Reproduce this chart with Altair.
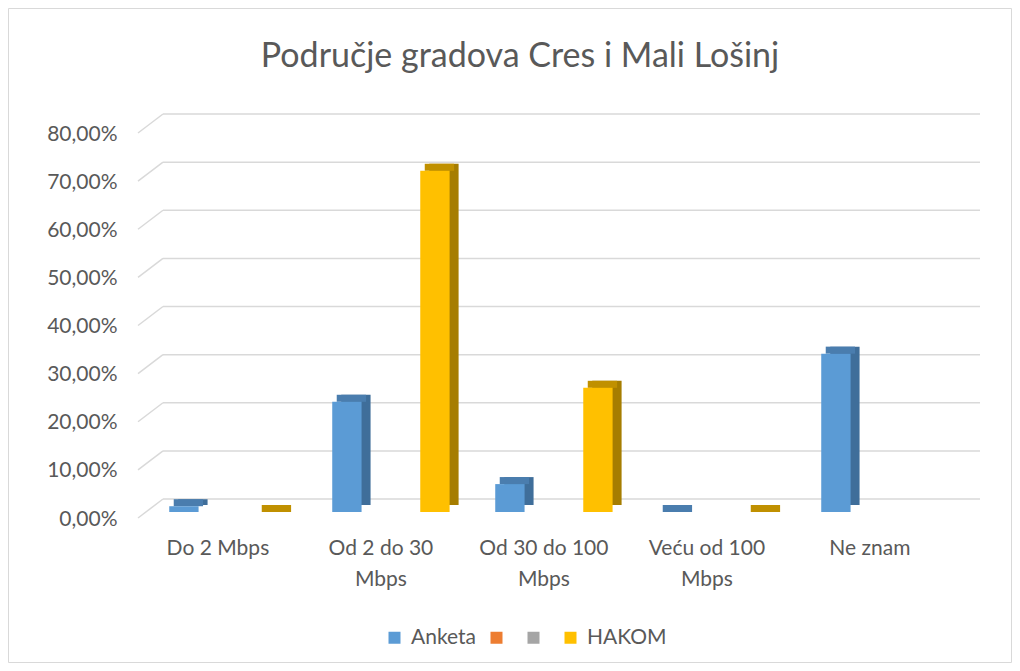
import altair as alt
import pandas as pd

# ---- data ----
categories = ["Do 2 Mbps", "Od 2 do 30 Mbps", "Od 30 do 100 Mbps", "Veću od 100 Mbps", "Ne znam"]
series = ["Anketa", " ", "  ", "HAKOM"]
series_colors = ["#5B9BD5", "#ED7D31", "#A5A5A5", "#FFC000"]
anketa = [0.012, 0.229, 0.058, 0.0, 0.329]
hakom = [0.0, 0.709, 0.258, 0.0, None]
y_ticks = [0.0, 0.1, 0.2, 0.3, 0.4, 0.5, 0.6, 0.7, 0.8]
chart_title = "Područje gradova Cres i Mali Lošinj"

rows = []
for c, a, h in zip(categories, anketa, hakom):
    if a is not None:
        rows.append({"kategorija": c, "serija": "Anketa", "vrijednost": a})
    if h is not None:
        rows.append({"kategorija": c, "serija": "HAKOM", "vrijednost": h})
df = pd.DataFrame(rows)
grid_df = pd.DataFrame({"v": y_ticks})

FONT = "Lato"
TXT = "#595959"
GRID = "#D9D9D9"
W, H = 842, 385
BW = 163.0 * 0.72  # cluster width inside each category band

x_scale = alt.Scale(domain=categories, paddingInner=0.28, paddingOuter=0.2228, align=0.43)
y_scale = alt.Scale(domain=[0, 0.8], nice=False, zero=True)
color_scale = alt.Scale(domain=series, range=series_colors)


def off_scale(shift):
    return alt.Scale(domain=series, paddingInner=0, paddingOuter=0, range=[shift, shift + BW])


x_axis = alt.Axis(
    title=None, domain=False, ticks=False, labelAngle=0,
    labelFont=FONT, labelFontSize=21, labelColor=TXT, labelPadding=25,
    labelLineHeight=31, labelOffset=-10,
    labelExpr="length(datum.label) > 10 ? [slice(datum.label, 0, lastindexof(datum.label, ' ')), 'Mbps'] : datum.label",
)
y_axis = alt.Axis(
    title=None, domain=False, ticks=False, grid=False, values=y_ticks,
    labelFont=FONT, labelFontSize=21, labelColor=TXT, labelPadding=21,
    labelOffset=7,
    labelExpr="replace(format(datum.value, '.2%'), '.', ',')",
)


def bars(shift):
    return alt.Chart(df).encode(
        x=alt.X("kategorija:N", scale=x_scale, sort=categories, axis=x_axis),
        xOffset=alt.XOffset("serija:N", scale=off_scale(shift)),
        y=alt.Y("vrijednost:Q", scale=y_scale, axis=y_axis),
    )


side = bars(9).transform_calculate(
    boja="datum.serija == 'Anketa' ? '#3F6E9A' : '#A67D00'"
).mark_bar(yOffset=-7, y2Offset=-7).encode(
    color=alt.Color("boja:N", scale=None)
)

top = bars(4.5).transform_calculate(
    boja="datum.serija == 'Anketa' ? '#4A7DAE' : '#C09000'",
    vrh="datum.vrijednost + 0.0146",
).mark_bar().encode(
    y2="vrh:Q",
    color=alt.Color("boja:N", scale=None),
)

front = bars(0).mark_bar().encode(
    color=alt.Color(
        "serija:N", scale=color_scale,
        legend=alt.Legend(
            title=None, orient="none", direction="horizontal",
            legendX=246, legendY=500,
            symbolType="square", symbolSize=144, symbolStrokeWidth=0,
            labelFont=FONT, labelFontSize=21, labelColor=TXT,
            labelOffset=6, columnPadding=10,
            labelExpr="datum.label == 'Anketa' || datum.label == 'HAKOM' ? datum.label : ''",
        ),
    )
)

grid_diag = alt.Chart(grid_df).mark_rule(
    color=GRID, strokeWidth=1.5, yOffset=6, y2Offset=-13
).encode(
    y=alt.Y("v:Q", scale=y_scale, axis=y_axis),
    y2="v:Q",
    x=alt.value(0), x2=alt.value(25),
)
grid_back = alt.Chart(grid_df).mark_rule(
    color=GRID, strokeWidth=1.5, yOffset=-13
).encode(
    y=alt.Y("v:Q", scale=y_scale, axis=y_axis),
    x=alt.value(25), x2=alt.value(W),
)

border = alt.Chart(pd.DataFrame({"o": [0]})).mark_rect(
    filled=False, stroke=GRID, strokeWidth=1
).encode(
    x=alt.value(-129.5), x2=alt.value(W + 31.5),
    y=alt.value(-118.5), y2=alt.value(H + 150.5),
)

chart = alt.layer(border, grid_diag, grid_back, side, top, front).resolve_scale(
    xOffset="independent"
).properties(
    width=W, height=H,
    padding={"left": 130, "top": 119, "right": 32, "bottom": 151},
    autosize=alt.AutoSizeParams(type="none"),
    title=alt.TitleParams(
        text=chart_title, font=FONT, fontSize=34, fontWeight="normal",
        color=TXT, anchor="middle", dx=-39, offset=-66,
    ),
).configure(font=FONT, background="white").configure_view(strokeWidth=0)

chart.save("out.html", embed_options={"renderer": "svg", "actions": False})
